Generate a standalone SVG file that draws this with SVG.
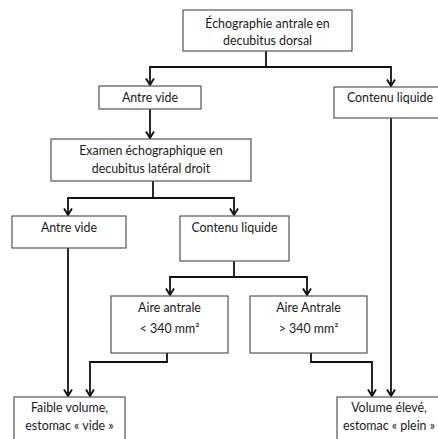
<svg xmlns="http://www.w3.org/2000/svg" width="438" height="439" viewBox="0 0 438 439">
<style>
.box{fill:#fff;stroke:#555;stroke-width:1.2}
.t{font-family:Lato,"Liberation Sans",sans-serif;font-size:12.4px;fill:#1a1a1a;text-anchor:middle}
.c{fill:none;stroke:#111;stroke-width:1.8;marker-end:url(#ah)}
.cn{fill:none;stroke:#111;stroke-width:1.8}
</style>
<defs>
<marker id="ah" markerWidth="10" markerHeight="10" refX="8.5" refY="5" orient="auto" markerUnits="userSpaceOnUse" viewBox="0 0 10 10">
<path d="M2,1 L8.5,5 L2,9" fill="none" stroke="#111" stroke-width="1.9"/>
</marker>
</defs>
<rect width="438" height="439" fill="#fff"/>
<g id="connectors">
<path class="cn" d="M266,51 V67"/>
<path class="c" d="M266,67 H150 V85"/>
<path class="c" d="M266,67 H391 V86"/>
<path class="c" d="M150,109 V138"/>
<path class="cn" d="M153,181 V198"/>
<path class="c" d="M153,198 H68 V215"/>
<path class="c" d="M153,198 H234 V215"/>
<path class="cn" d="M234,261 V277"/>
<path class="c" d="M234,277 H170 V295"/>
<path class="c" d="M234,277 H307 V295"/>
<path class="c" d="M68,248 V396"/>
<path class="c" d="M167,353 V362 H90 V396"/>
<path class="c" d="M311,353 V362 H372 V396"/>
<path class="c" d="M391,118 V396"/>
</g>
<g id="n1"><rect class="box" x="183" y="10" width="169" height="41"/>
<text class="t" x="267.5" y="28">Échographie antrale en</text>
<text class="t" x="267.5" y="45">decubitus dorsal</text></g>
<g id="n2"><rect class="box" x="99" y="86" width="102" height="23"/>
<text class="t" x="150" y="102">Antre vide</text></g>
<g id="n3"><rect class="box" x="334" y="87" width="110" height="31"/>
<text class="t" x="390" y="102">Contenu liquide</text></g>
<g id="n4"><rect class="box" x="51" y="139" width="200" height="42"/>
<text class="t" x="151" y="155">Examen échographique en</text>
<text class="t" x="151" y="173">decubitus latéral droit</text></g>
<g id="n5"><rect class="box" x="12" y="216" width="114" height="32"/>
<text class="t" x="69" y="232">Antre vide</text></g>
<g id="n6"><rect class="box" x="180" y="216" width="109" height="45"/>
<text class="t" x="234.5" y="232">Contenu liquide</text></g>
<g id="n7"><rect class="box" x="111" y="296" width="117" height="57"/>
<text class="t" x="169.5" y="312">Aire antrale</text>
<text class="t" x="169.5" y="333">&lt; 340 mm²</text></g>
<g id="n8"><rect class="box" x="250" y="296" width="117" height="57"/>
<text class="t" x="308.5" y="312">Aire Antrale</text>
<text class="t" x="308.5" y="333">&gt; 340 mm²</text></g>
<g id="n9"><rect class="box" x="14" y="397" width="111" height="50"/>
<text class="t" x="69.5" y="412">Faible volume,</text>
<text class="t" x="69.5" y="430">estomac « vide »</text></g>
<g id="n10"><rect class="box" x="337" y="397" width="110" height="50"/>
<text class="t" x="389" y="412">Volume élevé,</text>
<text class="t" x="389" y="430">estomac « plein »</text></g>
</svg>
